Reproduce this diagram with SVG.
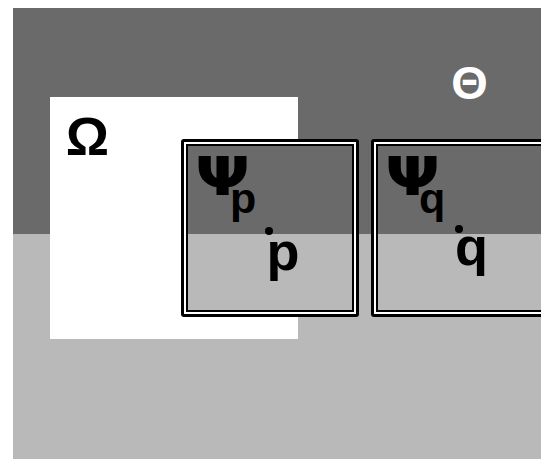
<svg xmlns="http://www.w3.org/2000/svg" width="541" height="459" viewBox="0 0 541 459">
  <style>
    .dark { fill: #6a6a6a; }
    .light { fill: #b9b9b9; }
    .lbl { font-family: "Liberation Sans", Arial, sans-serif; font-weight: bold; text-anchor: middle; }
    .psi { font-family: "DejaVu Sans", sans-serif; font-weight: bold; font-size: 54px; }
    .sub { font-family: "Liberation Sans", Arial, sans-serif; font-weight: bold; font-size: 43px; }
  </style>
  <defs>
    <g id="frame">
      <rect x="0" y="0" width="178" height="178" rx="3" fill="#000"/>
      <rect x="3" y="3" width="172" height="172" fill="#fff"/>
      <rect x="5" y="5" width="168" height="168" fill="#000"/>
      <rect x="7" y="7" width="164" height="88" class="dark"/>
      <rect x="7" y="95" width="164" height="76" class="light"/>
    </g>
  </defs>
  <rect width="541" height="459" fill="#fff"/>
  <g id="background">
    <rect x="13" y="8" width="528" height="226" class="dark"/>
    <rect x="13" y="234" width="528" height="225" class="light"/>
  </g>
  <g id="theta">
    <text class="lbl" x="469.5" y="99" font-size="47" fill="#fff">Θ</text>
  </g>
  <g id="omega">
    <rect x="50" y="97" width="248" height="242" fill="#fff"/>
    <text class="lbl" x="87.5" y="155" font-size="54" fill="#000">Ω</text>
  </g>
  <g id="box-p">
    <use href="#frame" x="181" y="139"/>
    <text class="psi" transform="translate(195,195) scale(1.2,1)">Ψ</text>
    <text class="sub" x="230" y="213">p</text>
    <circle cx="269" cy="231" r="4" fill="#000"/>
    <text class="lbl" x="283" y="270" font-size="54">p</text>
  </g>
  <g id="box-q">
    <use href="#frame" x="371" y="139"/>
    <text class="psi" transform="translate(385,195) scale(1.2,1)">Ψ</text>
    <text class="sub" x="419" y="213">q</text>
    <circle cx="459" cy="229" r="4" fill="#000"/>
    <text class="lbl" x="471.5" y="265" font-size="54">q</text>
  </g>
</svg>
